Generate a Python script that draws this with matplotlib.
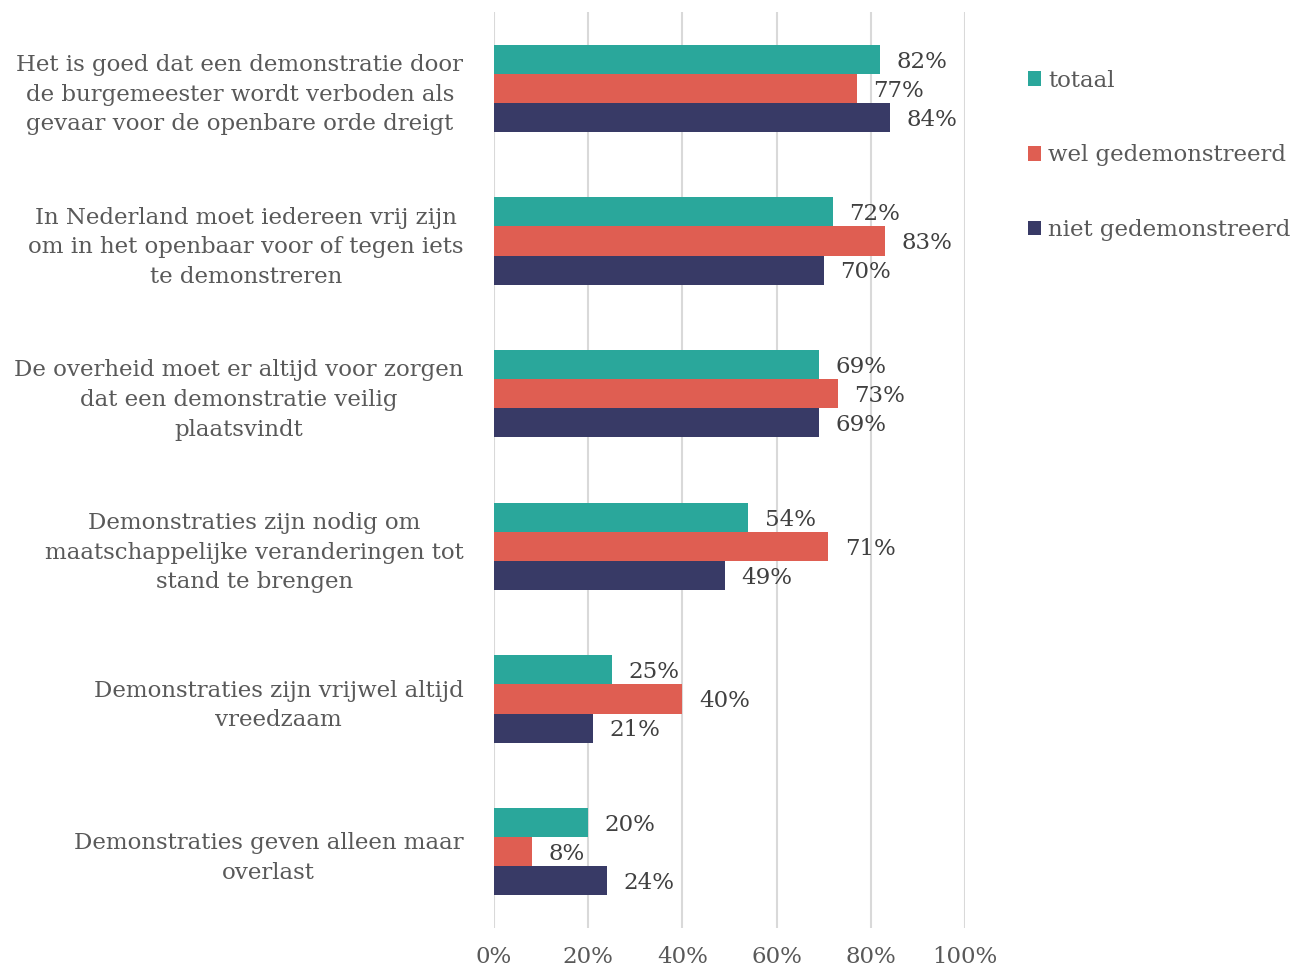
import numpy as np
import matplotlib.pyplot as plt

categories = [
    "Het is goed dat een demonstratie door\nde burgemeester wordt verboden als\ngevaar voor de openbare orde dreigt",
    "In Nederland moet iedereen vrij zijn\nom in het openbaar voor of tegen iets\nte demonstreren",
    "De overheid moet er altijd voor zorgen\ndat een demonstratie veilig\nplaatsvindt",
    "Demonstraties zijn nodig om\nmaatschappelijke veranderingen tot\nstand te brengen",
    "Demonstraties zijn vrijwel altijd\nvreedzaam",
    "Demonstraties geven alleen maar\noverlast",
]
totaal = [82, 72, 69, 54, 25, 20]
wel = [77, 83, 73, 71, 40, 8]
niet = [84, 70, 69, 49, 21, 24]

series = [("totaal", totaal, "#2AA79B"),
          ("wel gedemonstreerd", wel, "#DF5E52"),
          ("niet gedemonstreerd", niet, "#383A66")]

text_color = "#595959"
fs = 16.5
plt.rcParams['font.family'] = ['DejaVu Serif']

fig = plt.figure(figsize=(12.97, 9.72), dpi=100)
ax = fig.add_axes([494 / 1297, 1 - 928 / 972, (965 - 494) / 1297, 916 / 972])

y = np.arange(len(categories))
h = 0.19
for i, (name, vals, col) in enumerate(series):
    pos = y + (i - 1) * h
    bars = ax.barh(pos, vals, height=h, color=col, label=name, zorder=3)
    for b, v in zip(bars, vals):
        ax.text(b.get_width() + 3.5, b.get_y() + b.get_height() / 2 + 0.015, f"{v}%",
                va='center', ha='left', fontsize=fs, color="#404040", zorder=4)

ax.set_xlim(0, 100)
ax.set_ylim(len(categories) - 0.5, -0.5)
ax.set_xticks(np.arange(0, 101, 20))
ax.set_xticklabels([f"{t}%" for t in range(0, 101, 20)])
ax.set_yticks(y)
ax.set_yticklabels(categories, multialignment='center', linespacing=1.45)
ax.tick_params(axis='both', length=0, labelsize=fs, labelcolor=text_color)
ax.tick_params(axis='y', pad=22)
ax.tick_params(axis='x', pad=13)
ax.xaxis.grid(True, color="#D9D9D9", linewidth=1.5, zorder=0)
for s in ax.spines.values():
    s.set_visible(False)

ax.legend(loc='upper left', bbox_to_anchor=(1007 / 1297, 1 - 49 / 972),
          bbox_transform=fig.transFigure, frameon=False, fontsize=fs,
          labelcolor=text_color, handlelength=0.6, handleheight=0.6,
          handletextpad=0.3, labelspacing=2.3)

fig.savefig("out.png", dpi=100)
